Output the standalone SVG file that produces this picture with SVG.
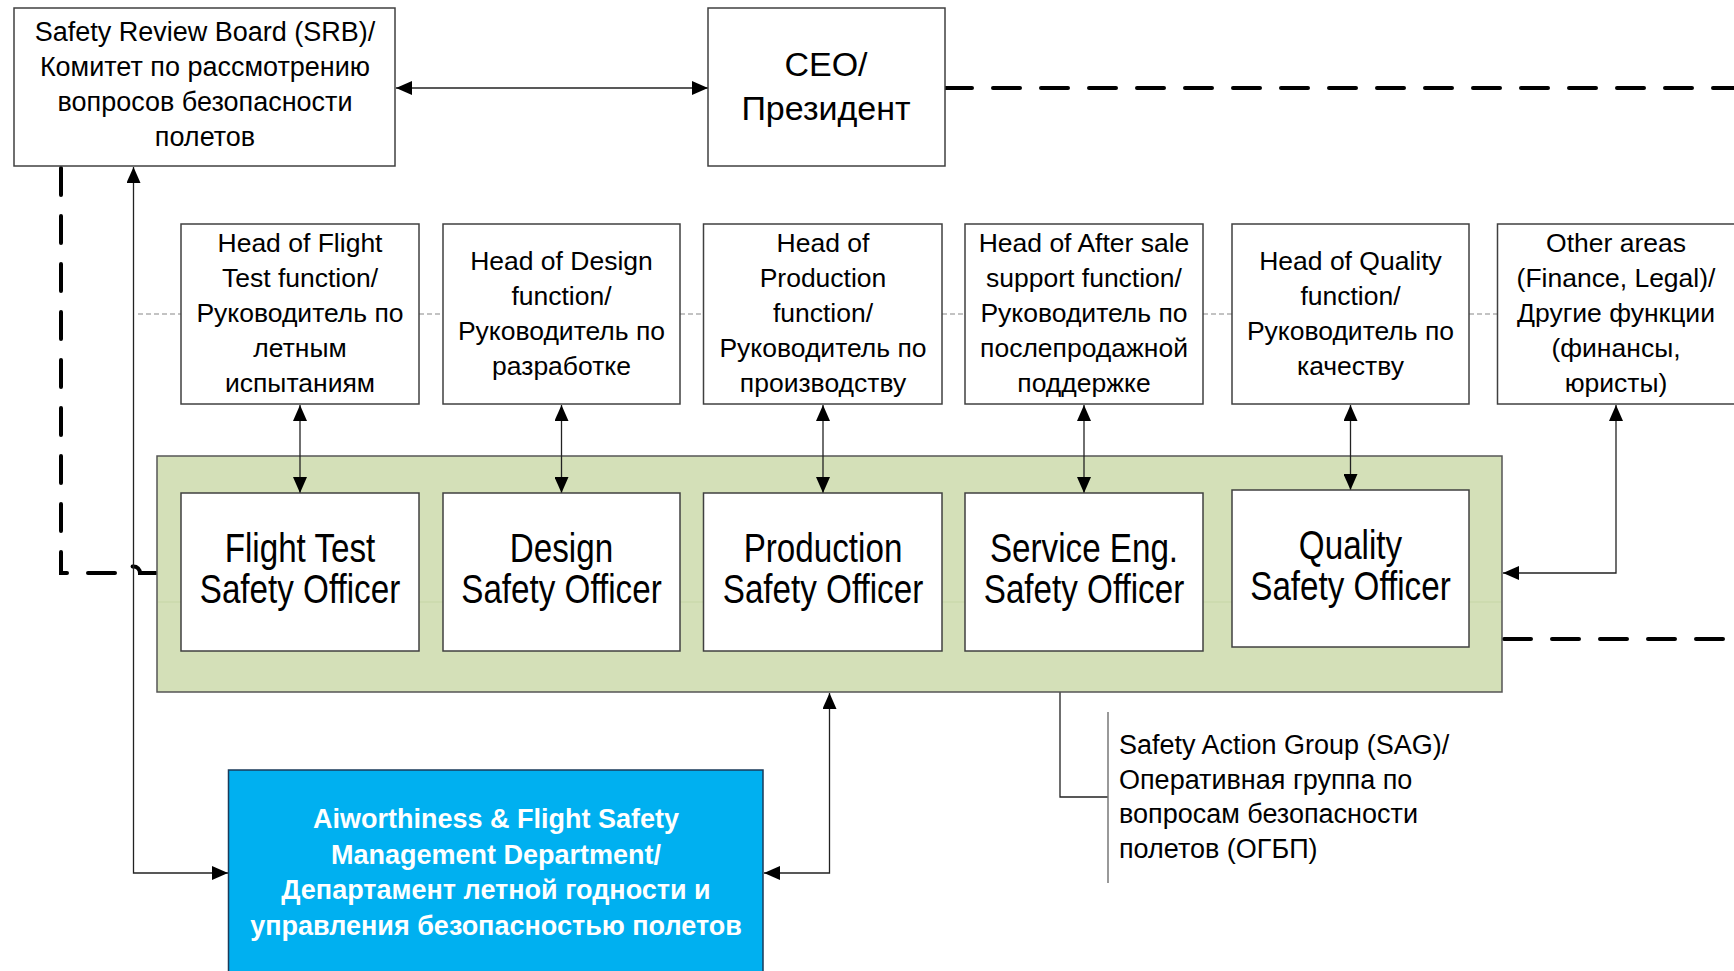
<svg xmlns="http://www.w3.org/2000/svg" width="1734" height="971" viewBox="0 0 1734 971">
<defs>
<marker id="ah" markerUnits="userSpaceOnUse" markerWidth="17" markerHeight="14" refX="16" refY="7" orient="auto-start-reverse" viewBox="0 0 17 14">
<path d="M0,0 L16,7 L0,14 z" fill="#000"/>
</marker>
<style>
.box{fill:#fff;stroke:#404040;stroke-width:1.5}
.t{font-family:"Liberation Sans",Arial,sans-serif;fill:#000;text-anchor:middle}
.h{font-size:26.5px}
.o{font-size:40px}
.c{fill:none;stroke:#222;stroke-width:1.3}
.d{fill:none;stroke:#000;stroke-width:4;stroke-dasharray:27 21;stroke-linecap:round}
.g{fill:none;stroke:#888;stroke-width:1.2;stroke-dasharray:5 3}
</style>
</defs>
<rect width="1734" height="971" fill="#fff"/>

<g id="connectors">
<path class="d" d="M945,88 H1734"/>
<path class="d" d="M1504,639 H1734"/>
<path class="d" d="M61,168 V573 H127 a6.5,6.5 0 0 1 13,0 H156"/>
<path class="g" d="M138,314 H181 M419,314 H443 M680,314 H703 M942,314 H965 M1203,314 H1232 M1469,314 H1497"/>
<path class="c" d="M396,88 H708" marker-start="url(#ah)" marker-end="url(#ah)"/>
<path class="c" d="M133.5,167 V873 H228" marker-start="url(#ah)" marker-end="url(#ah)"/>
<path class="c" d="M764,873 H829.5 V693" marker-start="url(#ah)" marker-end="url(#ah)"/>
<path class="c" d="M1616,405 V573 H1503" marker-start="url(#ah)" marker-end="url(#ah)"/>
<path class="c" d="M1060,692 V797 H1108"/>
<path fill="none" stroke="#777" stroke-width="1.5" d="M1108,712 V883"/>
</g>

<g id="sag-group">
<rect x="157" y="456" width="1345" height="236" fill="#d4e0b8" stroke="#555" stroke-width="1.5"/>
<line x1="158" y1="602" x2="1501" y2="602" stroke="#c6d6a6" stroke-width="1"/>
</g>

<g id="srb">
<rect class="box" x="14" y="8" width="381" height="158"/>
<text class="t" font-size="27"><tspan x="205" y="41">Safety Review Board (SRB)/</tspan><tspan x="205" y="76">Комитет по рассмотрению</tspan><tspan x="205" y="111">вопросов безопасности</tspan><tspan x="205" y="146">полетов</tspan></text>
</g>

<g id="ceo">
<rect class="box" x="708" y="8" width="237" height="158"/>
<text class="t" font-size="34"><tspan x="826" y="76">CEO/</tspan><tspan x="826" y="120">Президент</tspan></text>
</g>

<g id="head-flight-test">
<rect class="box" x="181" y="224" width="238" height="180"/>
<text class="t h"><tspan x="300" y="252">Head of Flight</tspan><tspan x="300" y="287">Test function/</tspan><tspan x="300" y="322">Руководитель по</tspan><tspan x="300" y="357">летным</tspan><tspan x="300" y="392">испытаниям</tspan></text>
</g>
<g id="head-design">
<rect class="box" x="443" y="224" width="237" height="180"/>
<text class="t h"><tspan x="561.5" y="269.5">Head of Design</tspan><tspan x="561.5" y="304.5">function/</tspan><tspan x="561.5" y="339.5">Руководитель по</tspan><tspan x="561.5" y="374.5">разработке</tspan></text>
</g>
<g id="head-production">
<rect class="box" x="703.5" y="224" width="238.5" height="180"/>
<text class="t h"><tspan x="823" y="252">Head of</tspan><tspan x="823" y="287">Production</tspan><tspan x="823" y="322">function/</tspan><tspan x="823" y="357">Руководитель по</tspan><tspan x="823" y="392">производству</tspan></text>
</g>
<g id="head-after-sale">
<rect class="box" x="965" y="224" width="238" height="180"/>
<text class="t h"><tspan x="1084" y="252">Head of After sale</tspan><tspan x="1084" y="287">support function/</tspan><tspan x="1084" y="322">Руководитель по</tspan><tspan x="1084" y="357">послепродажной</tspan><tspan x="1084" y="392">поддержке</tspan></text>
</g>
<g id="head-quality">
<rect class="box" x="1232" y="224" width="237" height="180"/>
<text class="t h"><tspan x="1350.5" y="269.5">Head of Quality</tspan><tspan x="1350.5" y="304.5">function/</tspan><tspan x="1350.5" y="339.5">Руководитель по</tspan><tspan x="1350.5" y="374.5">качеству</tspan></text>
</g>
<g id="other-areas">
<rect class="box" x="1497.5" y="224" width="238" height="180"/>
<text class="t h"><tspan x="1616" y="252">Other areas</tspan><tspan x="1616" y="287">(Finance, Legal)/</tspan><tspan x="1616" y="322">Другие функции</tspan><tspan x="1616" y="357">(финансы,</tspan><tspan x="1616" y="392">юристы)</tspan></text>
</g>

<g id="arrows-heads">
<path class="c" d="M300,405 V493" marker-start="url(#ah)" marker-end="url(#ah)"/>
<path class="c" d="M561.5,405 V493" marker-start="url(#ah)" marker-end="url(#ah)"/>
<path class="c" d="M823,405 V493" marker-start="url(#ah)" marker-end="url(#ah)"/>
<path class="c" d="M1084,405 V493" marker-start="url(#ah)" marker-end="url(#ah)"/>
<path class="c" d="M1350.5,405 V490" marker-start="url(#ah)" marker-end="url(#ah)"/>
</g>

<g id="officer-flight-test">
<rect class="box" x="181" y="493" width="238" height="158"/>
<g transform="translate(300,0) scale(0.83,1)"><text class="t o"><tspan x="0" y="562">Flight Test</tspan><tspan x="0" y="603">Safety Officer</tspan></text></g>
</g>
<g id="officer-design">
<rect class="box" x="443" y="493" width="237" height="158"/>
<g transform="translate(561.5,0) scale(0.83,1)"><text class="t o"><tspan x="0" y="562">Design</tspan><tspan x="0" y="603">Safety Officer</tspan></text></g>
</g>
<g id="officer-production">
<rect class="box" x="703.5" y="493" width="238.5" height="158"/>
<g transform="translate(823,0) scale(0.83,1)"><text class="t o"><tspan x="0" y="562">Production</tspan><tspan x="0" y="603">Safety Officer</tspan></text></g>
</g>
<g id="officer-service">
<rect class="box" x="965" y="493" width="238" height="158"/>
<g transform="translate(1084,0) scale(0.83,1)"><text class="t o"><tspan x="0" y="562">Service Eng.</tspan><tspan x="0" y="603">Safety Officer</tspan></text></g>
</g>
<g id="officer-quality">
<rect class="box" x="1232" y="490" width="237" height="157"/>
<g transform="translate(1350.5,0) scale(0.83,1)"><text class="t o"><tspan x="0" y="559">Quality</tspan><tspan x="0" y="600">Safety Officer</tspan></text></g>
</g>

<g id="afsm-department">
<rect x="228.5" y="770" width="534.5" height="220" fill="#00b0f0" stroke="#1a3a5a" stroke-width="1.5"/>
<text class="t" font-size="27" font-weight="bold" style="fill:#fff"><tspan x="496" y="828">Aiworthiness &amp; Flight Safety</tspan><tspan x="496" y="864">Management Department/</tspan><tspan x="496" y="899">Департамент летной годности и</tspan><tspan x="496" y="935">управления безопасностью полетов</tspan></text>
</g>

<g id="sag-label">
<text font-family="Liberation Sans, Arial, sans-serif" font-size="27" fill="#000"><tspan x="1119" y="754">Safety Action Group (SAG)/</tspan><tspan x="1119" y="789">Оперативная группа по</tspan><tspan x="1119" y="823">вопросам безопасности</tspan><tspan x="1119" y="858">полетов (ОГБП)</tspan></text>
</g>
</svg>
